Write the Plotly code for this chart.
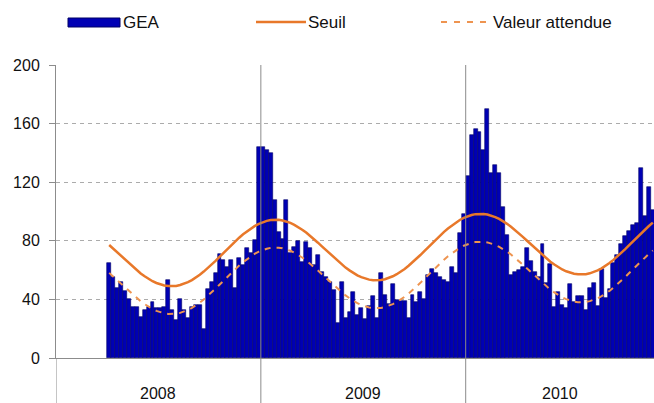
import plotly.graph_objects as go

# ---------------- data (weekly, starting week 14 of 2008) ----------------
start_week = 14
gea = [65, 55, 48, 52, 46, 40, 35, 35, 28, 33, 35, 38, 34, 34, 35, 53, 33, 26, 40, 33,
       27, 35, 36, 36, 20, 47, 52, 58, 71, 67, 62, 67, 48, 68,
       63.5, 75, 72, 80.5, 143.8, 143.8, 142, 140, 108, 86, 81, 108, 71.5, 76, 80, 65.7,
       79.5, 75, 63.5, 70, 59, 55.5, 52, 46.4, 24, 52, 27, 31.6, 45, 29.5, 34, 26.7, 35.5,
       42, 27, 58, 43, 37, 50.5, 39.6, 39, 39, 27, 43, 38, 45, 40, 57, 61, 58,
       55,
       53, 52, 62, 58, 85, 98, 124, 152, 156, 154.5, 142, 170, 126, 132, 126, 103, 84, 57,
       59, 60, 62, 75, 66, 59, 55, 78, 51, 64, 35, 45, 36, 34, 50.5, 38.5, 42, 42, 33, 47.5,
       51.4, 35.5, 61, 41, 47, 64.6, 70, 78, 83, 87, 91, 92, 130, 97, 116.5, 101]

seuil = [77.1, 74.7, 72.2, 69.7, 67.2, 64.6, 62.2, 59.9, 57.7, 55.8,
         54.0, 52.4, 51.2, 50.2, 49.5, 49.1, 49.0, 49.2, 49.8, 50.6,
         51.8, 53.2, 54.9, 56.8, 59.0, 61.3, 63.8, 66.3, 69.0, 71.7,
         74.4, 77.0, 79.6, 82.1, 84.4, 86.5, 88.5, 90.2, 91.6, 92.7,
         93.6, 94.2, 94.4, 94.3, 93.9, 93.2, 92.2, 90.9, 89.4, 87.6,
         85.6, 83.5, 81.1, 78.7, 76.2, 73.7, 71.2, 68.7, 66.2, 63.9,
         61.7, 59.8, 58.0, 56.4, 55.2, 54.2, 53.5, 53.1, 53.0, 53.2,
         53.8, 54.6, 55.8, 57.2, 58.9, 60.8, 63.0, 65.3, 67.8, 70.3,
         73.0, 75.7, 78.4, 81.0, 83.6, 86.1, 88.4, 90.5, 92.5, 94.2,
         95.6, 96.7, 97.6, 98.2, 98.4, 98.3, 97.9, 97.2, 96.2, 94.9,
         93.4, 91.6, 89.6, 87.5, 85.2, 82.7, 80.2, 77.7, 75.2, 72.7,
         70.2, 67.9, 65.7, 63.8, 62.0, 60.4, 59.2, 58.2, 57.5, 57.1,
         57.0, 57.2, 57.8, 58.6, 59.8, 61.2, 62.9, 64.8, 67.0, 69.3,
         71.8, 74.3, 77.0, 79.7, 82.4, 85.0, 87.6, 90.1, 92.4]

attendue = [58.1, 55.7, 53.2, 50.7, 48.2, 45.6, 43.2, 40.9, 38.7, 36.8,
            35.0, 33.4, 32.2, 31.2, 30.5, 30.1, 30.0, 30.2, 30.8, 31.6,
            32.8, 34.2, 35.9, 37.8, 40.0, 42.3, 44.8, 47.3, 50.0, 52.7,
            55.4, 58.0, 60.6, 63.1, 65.4, 67.5, 69.5, 71.2, 72.6, 73.7,
            74.6, 75.2, 75.4, 75.3, 74.9, 74.2, 73.2, 71.9, 70.4, 68.6,
            66.6, 64.5, 62.1, 59.7, 57.2, 54.7, 52.2, 49.7, 47.2, 44.9,
            42.7, 40.8, 39.0, 37.4, 36.2, 35.2, 34.5, 34.1, 34.0, 34.2,
            34.8, 35.6, 36.8, 38.2, 39.9, 41.8, 44.0, 46.3, 48.8, 51.3,
            54.0, 56.7, 59.4, 62.0, 64.6, 67.1, 69.4, 71.5, 73.5, 75.2,
            76.6, 77.7, 78.6, 79.2, 79.4, 79.3, 78.9, 78.2, 77.2, 75.9,
            74.4, 72.6, 70.6, 68.5, 66.2, 63.7, 61.2, 58.7, 56.2, 53.7,
            51.2, 48.9, 46.7, 44.8, 43.0, 41.4, 40.2, 39.2, 38.5, 38.1,
            38.0, 38.2, 38.8, 39.6, 40.8, 42.2, 43.9, 45.8, 48.0, 50.3,
            52.8, 55.3, 58.0, 60.7, 63.4, 66.0, 68.6, 71.1, 73.4]

years = ["2008", "2009", "2010"]
year_start = [0, 52, 104]      # in weeks since start of 2008
y_ticks = [0, 40, 80, 120, 160, 200]

# ---------------- figure ----------------
W, H = 654, 403
ML, MR, MT, MB = 56, 0, 65, 45
PW, PH = W - ML - MR, H - MT - MB
x_max = 151.8

x = [start_week - 0.5 + i for i in range(len(gea))]

BAR = "#0000B4"
BAR_EDGE = "#000066"
ORANGE = "#E8782A"
ORANGE2 = "#EE9450"
GRAY = "#8C8C8C"
FONT = "Liberation Sans, Arial, sans-serif"

fig = go.Figure()
fig.add_trace(go.Bar(x=x, y=gea, width=1, name="GEA",
                     marker=dict(color=BAR, line=dict(color=BAR_EDGE, width=0.6)),
                     showlegend=False))
fig.add_trace(go.Scatter(x=x, y=seuil, mode="lines", name="Seuil",
                         line=dict(color=ORANGE, width=2.5), showlegend=False))
fig.add_trace(go.Scatter(x=x, y=attendue, mode="lines", name="Valeur attendue",
                         line=dict(color=ORANGE2, width=2, dash="6px,6px"),
                         showlegend=False))

def px2paper_x(px):
    return (px - ML) / PW

def px2paper_y(py):
    return (H - MB - py) / PH

shapes = []
ybot = px2paper_y(H)
# year separators extending into the label area
for ys in year_start:
    shapes.append(dict(type="line", xref="x", yref="paper", x0=ys, x1=ys,
                       y0=ybot, y1=1 if ys > 0 else 0,
                       line=dict(color=GRAY, width=1), layer="above"))

# manual legend
ly = px2paper_y(22)
shapes.append(dict(type="rect", xref="paper", yref="paper",
                   x0=px2paper_x(68), x1=px2paper_x(120),
                   y0=px2paper_y(27), y1=px2paper_y(18),
                   fillcolor=BAR, line=dict(color=BAR_EDGE, width=1)))
shapes.append(dict(type="line", xref="paper", yref="paper",
                   x0=px2paper_x(256), x1=px2paper_x(306), y0=ly, y1=ly,
                   line=dict(color=ORANGE, width=2.5)))
shapes.append(dict(type="line", xref="paper", yref="paper",
                   x0=px2paper_x(441), x1=px2paper_x(491), y0=ly, y1=ly,
                   line=dict(color=ORANGE2, width=2, dash="6px,7px")))

annotations = []
for name, px in [("GEA", 121), ("Seuil", 306), ("Valeur attendue", 491)]:
    annotations.append(dict(text=name, xref="paper", yref="paper",
                            x=px2paper_x(px), y=ly, xanchor="left", yanchor="middle",
                            showarrow=False, font=dict(size=17, color="#111", family=FONT)))

for i, yr in enumerate(years):
    a = year_start[i]
    b = year_start[i + 1] if i + 1 < len(year_start) else x_max
    annotations.append(dict(text=yr, xref="x", yref="paper", x=(a + b) / 2,
                            y=px2paper_y(393), xanchor="center", yanchor="middle",
                            showarrow=False, font=dict(size=16, color="#111", family=FONT)))

fig.update_layout(
    width=W, height=H,
    margin=dict(l=ML, r=MR, t=MT, b=MB, pad=0),
    paper_bgcolor="white", plot_bgcolor="white",
    bargap=0,
    showlegend=False,
    font=dict(family=FONT, size=16, color="#111"),
    xaxis=dict(range=[0, x_max], showticklabels=False, ticks="", showgrid=False,
               zeroline=False, showline=True, linecolor=GRAY, linewidth=1),
    yaxis=dict(range=[0, 200], tickvals=y_ticks, ticks="outside", ticklen=6,
               tickcolor=GRAY, tickwidth=1, showline=True, linecolor=GRAY, linewidth=1,
               showgrid=True, gridcolor="#ABABAB", griddash="4px,4px", gridwidth=1,
               zeroline=False, ticklabelstandoff=6,
               tickfont=dict(size=16, color="#111", family=FONT)),
    shapes=shapes,
    annotations=annotations,
)

fig.write_html("out.html",
               config={"displayModeBar": False},
               post_script="document.body.style.margin='0px';document.body.style.padding='0px';")
